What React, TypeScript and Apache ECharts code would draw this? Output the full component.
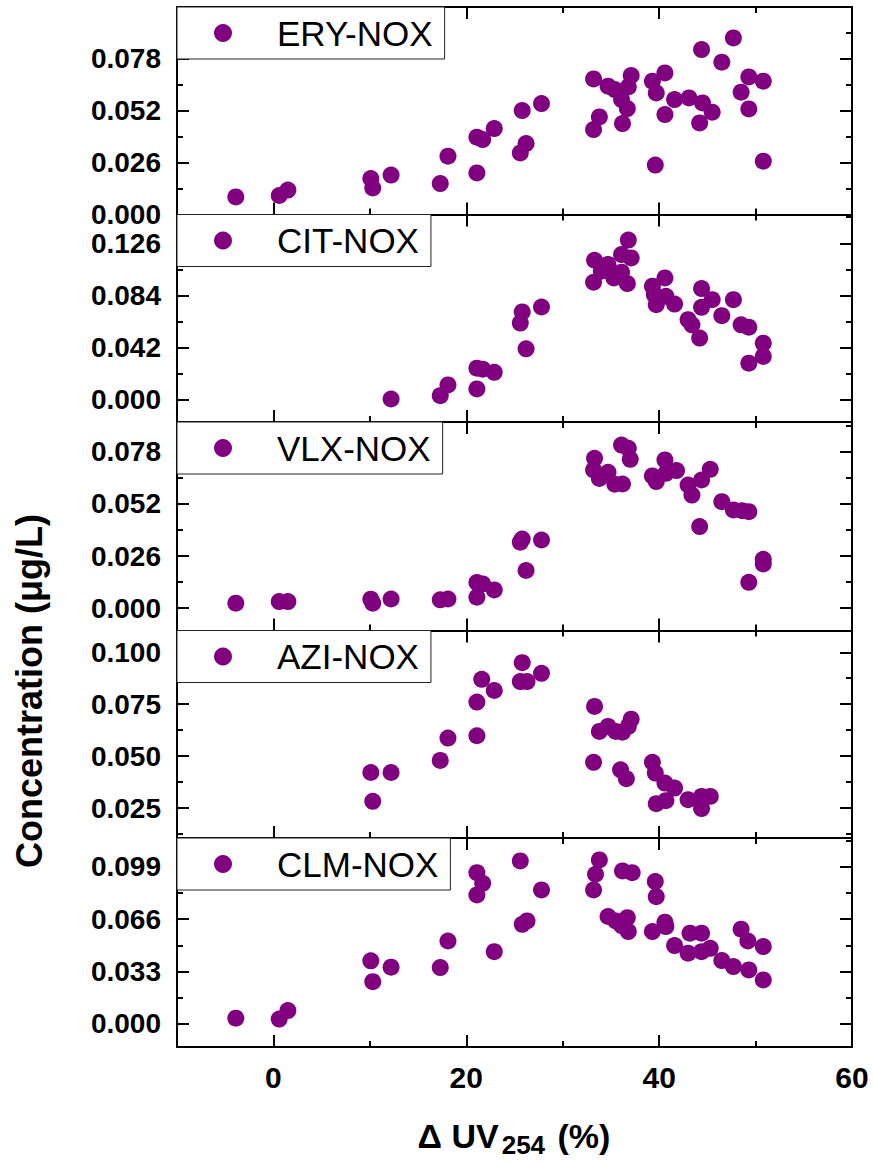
import React, { useEffect, useRef } from "react";
import * as echarts from "echarts";

const FONT = "'Liberation Sans', Arial, Helvetica, sans-serif";
const PURPLE = "#800080";

const X_MIN = -10;
const X_MAX = 60;
const X_TICKS = [0, 20, 40, 60];
const X_MINOR = [10, 30, 50];

const ERY_X = [-3.9, 0.6, 1.5, 10.1, 10.3, 12.2, 17.3, 18.1, 21.1, 21.1, 21.7, 22.9, 25.6, 26.2, 25.8, 27.8, 33.2, 33.2, 33.8, 34.7, 35.4, 36.1, 36.2, 36.7, 36.8, 37.1, 39.3, 39.7, 39.6, 40.6, 40.6, 41.6, 43.1, 44.2, 44.4, 44.5, 45.5, 46.5, 47.7, 48.5, 49.3, 49.3, 50.8, 50.8];
const ERY_Y = [0.0088, 0.0095, 0.0122, 0.018, 0.0133, 0.0197, 0.0155, 0.0292, 0.0208, 0.0387, 0.0375, 0.043, 0.0308, 0.0355, 0.052, 0.0555, 0.0678, 0.0425, 0.0488, 0.0642, 0.0625, 0.0575, 0.0455, 0.053, 0.0638, 0.0695, 0.0667, 0.0608, 0.0247, 0.0708, 0.05, 0.0575, 0.0583, 0.0458, 0.0825, 0.0558, 0.0512, 0.0762, 0.0883, 0.0612, 0.0688, 0.0528, 0.0667, 0.0267];

const CIT_X = [12.2, 17.3, 18.1, 21.1, 21.1, 21.7, 22.9, 26.2, 25.6, 25.8, 27.8, 33.2, 33.3, 34.0, 34.7, 35.3, 36.1, 36.1, 36.7, 37.1, 36.8, 39.3, 39.5, 39.7, 40.6, 40.7, 41.6, 43.0, 43.4, 44.2, 44.4, 44.4, 45.5, 46.5, 47.7, 48.5, 49.3, 49.3, 50.8, 50.8];
const CIT_Y = [0.0008, 0.0035, 0.0121, 0.0089, 0.0256, 0.0248, 0.0223, 0.0412, 0.0619, 0.0708, 0.0748, 0.0947, 0.1124, 0.1036, 0.109, 0.0982, 0.1028, 0.117, 0.0936, 0.1143, 0.1286, 0.0915, 0.0847, 0.0767, 0.0982, 0.0834, 0.0772, 0.0646, 0.0605, 0.0498, 0.0896, 0.0745, 0.0807, 0.0678, 0.0807, 0.0605, 0.0586, 0.0296, 0.0457, 0.035];

const VLX_X = [-3.9, 0.6, 1.5, 10.1, 10.3, 12.2, 17.3, 18.1, 21.1, 21.1, 21.7, 22.9, 26.2, 25.6, 25.8, 27.8, 33.3, 33.2, 33.8, 34.7, 35.4, 36.2, 36.1, 36.8, 37.0, 39.3, 39.7, 40.6, 40.7, 41.8, 43.0, 43.4, 44.4, 44.2, 45.3, 46.5, 47.7, 48.6, 49.3, 49.3, 50.8, 50.8];
const VLX_Y = [0.0025, 0.0033, 0.0033, 0.0045, 0.0025, 0.0046, 0.0042, 0.0046, 0.0055, 0.0128, 0.0121, 0.0091, 0.0188, 0.0329, 0.0345, 0.034, 0.0747, 0.0689, 0.0647, 0.0677, 0.0618, 0.0619, 0.0813, 0.0797, 0.0742, 0.0659, 0.0631, 0.0739, 0.0672, 0.0686, 0.0614, 0.0564, 0.0639, 0.0407, 0.0692, 0.0531, 0.049, 0.0486, 0.0481, 0.0129, 0.0244, 0.0221];

const AZI_X = [10.1, 10.3, 12.2, 17.3, 18.1, 21.1, 21.1, 21.6, 22.9, 25.8, 25.6, 26.3, 27.8, 33.3, 33.2, 33.8, 34.7, 35.5, 36.2, 36.8, 37.1, 36.0, 36.6, 39.3, 39.6, 40.6, 41.6, 39.7, 40.7, 43.0, 44.4, 44.4, 45.3];
const AZI_Y = [0.0421, 0.0282, 0.0421, 0.0479, 0.0587, 0.0598, 0.076, 0.087, 0.0816, 0.095, 0.0859, 0.0859, 0.0899, 0.0739, 0.047, 0.0619, 0.0643, 0.0619, 0.0615, 0.0643, 0.0678, 0.0434, 0.0391, 0.047, 0.0418, 0.037, 0.0346, 0.0271, 0.0285, 0.029, 0.0247, 0.0306, 0.0306];

const CLM_X = [-3.9, 0.6, 1.5, 10.1, 10.3, 12.2, 17.3, 18.1, 21.1, 21.7, 21.1, 22.9, 25.6, 25.8, 26.3, 27.8, 33.8, 33.4, 33.2, 34.7, 35.5, 36.1, 36.7, 36.8, 36.2, 37.2, 39.6, 39.7, 39.3, 40.6, 40.7, 41.6, 43.0, 43.2, 44.4, 44.4, 45.3, 46.5, 47.7, 48.5, 49.2, 49.3, 50.8, 50.8];
const CLM_Y = [0.0036, 0.0031, 0.0084, 0.0397, 0.0266, 0.0357, 0.0355, 0.0522, 0.0952, 0.0885, 0.0812, 0.0455, 0.1026, 0.0627, 0.0648, 0.0843, 0.1032, 0.0942, 0.0843, 0.0676, 0.0648, 0.0619, 0.0669, 0.0581, 0.0963, 0.0952, 0.0896, 0.0801, 0.0581, 0.064, 0.0613, 0.0493, 0.0445, 0.0571, 0.0571, 0.0455, 0.0476, 0.0399, 0.0361, 0.0596, 0.0522, 0.034, 0.0487, 0.0277];

const ERY_TICKS = [0, 0.026, 0.052, 0.078];
const ERY_MINOR = [0.013, 0.039, 0.065, 0.091];
const CIT_TICKS = [0, 0.042, 0.084, 0.126];
const CIT_MINOR = [0.021, 0.063, 0.105, 0.147];
const VLX_TICKS = [0, 0.026, 0.052, 0.078];
const VLX_MINOR = [0.013, 0.039, 0.065, 0.091];
const AZI_TICKS = [0.025, 0.05, 0.075, 0.1];
const AZI_MINOR = [0.0125, 0.0375, 0.0625, 0.0875];
const CLM_TICKS = [0, 0.033, 0.066, 0.099];
const CLM_MINOR = [0.0165, 0.0495, 0.0825, 0.1155];

const PANELS = [
  { name: "ERY-NOX", xs: ERY_X, ys: ERY_Y, min: 0, max: 0.1038, ticks: ERY_TICKS, minor: ERY_MINOR },
  { name: "CIT-NOX", xs: CIT_X, ys: CIT_Y, min: -0.0177, max: 0.1492, ticks: CIT_TICKS, minor: CIT_MINOR },
  { name: "VLX-NOX", xs: VLX_X, ys: VLX_Y, min: -0.0111, max: 0.0928, ticks: VLX_TICKS, minor: VLX_MINOR },
  { name: "AZI-NOX", xs: AZI_X, ys: AZI_Y, min: 0.01055, max: 0.1105, ticks: AZI_TICKS, minor: AZI_MINOR },
  { name: "CLM-NOX", xs: CLM_X, ys: CLM_Y, min: -0.0145, max: 0.117, ticks: CLM_TICKS, minor: CLM_MINOR },
];

const EDGES = [7, 214.5, 422, 630.5, 838, 1047];
const GRID_LEFT = 177;
const GRID_WIDTH = 675;
const MAJOR_LEN = 12;
const MINOR_LEN = 6;

function buildOption() {
  const grid: any[] = [];
  const xAxis: any[] = [];
  const yAxis: any[] = [];
  const series: any[] = [];
  const legend: any[] = [];
  const line = { color: "#000", width: 2 };

  PANELS.forEach((p, i) => {
    grid.push({
      left: GRID_LEFT,
      width: GRID_WIDTH,
      top: EDGES[i],
      height: EDGES[i + 1] - EDGES[i],
      show: false,
    });
    const isLast = i === PANELS.length - 1;
    const xDefs = [
      { pos: "bottom", ticks: X_TICKS, len: MAJOR_LEN },
      { pos: "bottom", ticks: X_MINOR, len: MINOR_LEN },
      { pos: "top", ticks: X_TICKS, len: MAJOR_LEN },
      { pos: "top", ticks: X_MINOR, len: MINOR_LEN },
    ];
    xDefs.forEach((d, k) => {
      xAxis.push({
        type: "value",
        gridIndex: i,
        position: d.pos,
        min: X_MIN,
        max: X_MAX,
        axisLine: { show: k === 0 || k === 2, onZero: false, lineStyle: line },
        axisTick: { show: true, inside: true, length: d.len, customValues: d.ticks, lineStyle: line },
        axisLabel: {
          show: isLast && k === 0,
          customValues: X_TICKS,
          margin: 15,
          fontSize: 30,
          fontWeight: "bold",
          fontFamily: FONT,
          color: "#000",
        },
        splitLine: { show: false },
      });
    });
    const yDefs = [
      { pos: "left", ticks: p.ticks, len: MAJOR_LEN },
      { pos: "left", ticks: p.minor, len: MINOR_LEN },
      { pos: "right", ticks: p.ticks, len: MAJOR_LEN },
      { pos: "right", ticks: p.minor, len: MINOR_LEN },
    ];
    yDefs.forEach((d, k) => {
      yAxis.push({
        type: "value",
        gridIndex: i,
        position: d.pos,
        min: p.min,
        max: p.max,
        axisLine: { show: k === 0 || k === 2, onZero: false, lineStyle: line },
        axisTick: { show: true, inside: true, length: d.len, customValues: d.ticks, lineStyle: line },
        axisLabel: {
          show: k === 0,
          customValues: p.ticks,
          margin: 16,
          fontSize: 28,
          fontWeight: "bold",
          fontFamily: FONT,
          color: "#000",
          formatter: (v: number) => v.toFixed(3),
        },
        splitLine: { show: false },
      });
    });
    series.push({
      type: "scatter",
      name: p.name,
      xAxisIndex: i * 4,
      yAxisIndex: i * 4,
      symbol: "circle",
      symbolSize: 17,
      itemStyle: { color: PURPLE, opacity: 1 },
      data: p.xs.map((x, j) => [x, p.ys[j]]),
      z: 3,
    });
    legend.push({
      data: [{ name: p.name, icon: "circle" }],
      left: GRID_LEFT,
      top: EDGES[i],
      itemWidth: 18,
      itemHeight: 18,
      padding: [8, 12, 8, 37],
      backgroundColor: "#fff",
      borderColor: "#222",
      borderWidth: 1,
      borderRadius: 0,
      selectedMode: false,
      z: 10,
      textStyle: {
        fontSize: 35,
        fontFamily: FONT,
        color: "#000",
        lineHeight: 36,
        padding: [0, 0, 0, 40],
      },
    });
  });

  return {
    animation: false,
    backgroundColor: "#fff",
    grid,
    xAxis,
    yAxis,
    series,
    legend,
    graphic: [
      {
        type: "text",
        x: 29,
        y: 691,
        rotation: Math.PI / 2,
        style: {
          text: "Concentration (μg/L)",
          font: `bold 36px ${FONT}`,
          fill: "#000",
          textAlign: "center",
          textVerticalAlign: "middle",
        },
      },
      {
        type: "text",
        x: 514,
        y: 1136,
        style: {
          text: "{a|Δ UV}{s|254}{a| (%)}",
          textAlign: "center",
          textVerticalAlign: "middle",
          fill: "#000",
          rich: {
            a: { fontSize: 34, fontWeight: "bold", fontFamily: FONT, fill: "#000", lineHeight: 34 },
            s: { fontSize: 26, fontWeight: "bold", fontFamily: FONT, fill: "#000", lineHeight: 26, padding: [18, 3, 0, 3] },
          },
        },
      },
    ],
  };
}

export default function App() {
  const ref = useRef<HTMLDivElement>(null);
  useEffect(() => {
    if (!ref.current) return;
    const chart = echarts.init(ref.current, undefined, { renderer: "svg" });
    chart.setOption(buildOption() as any);
    return () => chart.dispose();
  }, []);
  return (
    <div
      ref={ref}
      style={{ position: "absolute", left: 0, top: 0, width: 873, height: 1164, background: "#fff" }}
    />
  );
}
